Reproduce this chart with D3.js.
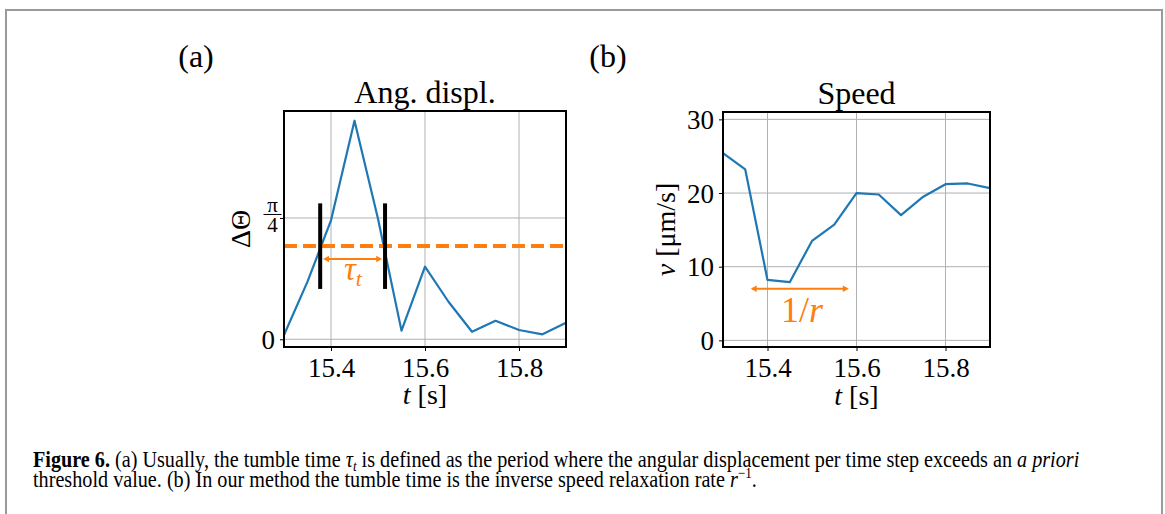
<!DOCTYPE html>
<html><head><meta charset="utf-8">
<script src="https://cdn.jsdelivr.net/npm/d3@7"></script>
<style>
body{margin:0;background:#fff;}
svg{display:block;font-family:"Liberation Serif","DejaVu Serif",serif;}
</style></head>
<body>
<script>
// ---- data ----
const times = [15.3, 15.35, 15.4, 15.45, 15.5, 15.55, 15.6, 15.65, 15.7, 15.75, 15.8, 15.85, 15.9];
const angDispl = [0.028, 0.373, 0.77, 1.415, 0.78, 0.056, 0.47, 0.243, 0.049, 0.12, 0.06, 0.032, 0.107];
const speed = [25.4, 23.2, 8.2, 7.9, 13.5, 15.7, 20.0, 19.8, 17.0, 19.5, 21.2, 21.3, 20.65];
const xTicks = [15.4, 15.6, 15.8];
const xTickLabels = ["15.4", "15.6", "15.8"];
const angTicks = [0, Math.PI / 4];
const speedTicks = [0, 10, 20, 30];
const threshold = [0.604];
const tumbleBars = [15.377, 15.515];
const tumbleBarRange = [0.326, 0.88];
const tauArrow = [15.381, 15.511, 0.52];
const rArrow = [15.36, 15.585, 7.0];

const W = 1165, H = 514;
const blue = "#1f77b4", orange = "#ff7f0e", gridC = "#b0b0b0";
const svg = d3.select("body").append("svg").attr("width", W).attr("height", H);
svg.append("rect").attr("width", W).attr("height", H).attr("fill", "#fff");
svg.append("rect").attr("x", 6).attr("y", 10).attr("width", 1156).attr("height", 600)
  .attr("fill", "none").attr("stroke", "#9a9a9a").attr("stroke-width", 2);

const defs = svg.append("defs");
function mk(id, dir) {
  const m = defs.append("marker").attr("id", id).attr("markerUnits", "userSpaceOnUse")
    .attr("markerWidth", 10).attr("markerHeight", 10).attr("viewBox", "-5 -5 10 10")
    .attr("refX", 0).attr("refY", 0).attr("orient", "auto");
  m.append("path").attr("d", dir > 0 ? "M-4,-3.2L2,0L-4,3.2Z" : "M4,-3.2L-2,0L4,3.2Z").attr("fill", orange);
}
mk("ahEnd", 1); mk("ahStart", -1);

function panel(box, yDomain, yTicks, yFmt) {
  const x = d3.scaleLinear().domain([15.3, 15.9]).range([box.l, box.r]);
  const y = d3.scaleLinear().domain(yDomain).range([box.b, box.t]);
  const g = svg.append("g");
  g.selectAll(".gx").data(xTicks).join("line")
    .attr("x1", d => x(d)).attr("x2", d => x(d)).attr("y1", box.t).attr("y2", box.b)
    .attr("stroke", gridC).attr("stroke-width", 1);
  g.selectAll(".gy").data(yTicks).join("line")
    .attr("x1", box.l).attr("x2", box.r).attr("y1", d => y(d)).attr("y2", d => y(d))
    .attr("stroke", gridC).attr("stroke-width", 1);
  const xa = g.append("g").attr("transform", `translate(0,${box.b})`)
    .call(d3.axisBottom(x).tickValues(xTicks).tickFormat((d, i) => xTickLabels[i]).tickSize(4).tickPadding(6));
  xa.select(".domain").remove();
  xa.selectAll("text").attr("font-size", 27).attr("font-family", "Liberation Serif").attr("fill", "#000")
    .attr("dy", null).attr("y", 30);
  xa.selectAll("line").attr("stroke", "#000");
  const ya = g.append("g").attr("transform", `translate(${box.l},0)`)
    .call(d3.axisLeft(y).tickValues(yTicks).tickFormat(yFmt).tickSize(4).tickPadding(5));
  ya.select(".domain").remove();
  ya.selectAll("text").attr("font-size", 27).attr("font-family", "Liberation Serif").attr("fill", "#000")
    .attr("dy", "0.34em");
  ya.selectAll("line").attr("stroke", "#000");
  return { x, y, g, ya };
}

function frame(box) {
  svg.append("rect").attr("x", box.l).attr("y", box.t).attr("width", box.r - box.l).attr("height", box.b - box.t)
    .attr("fill", "none").attr("stroke", "#000").attr("stroke-width", 2);
}

// ---- panel (a) ----
const boxA = { l: 284, r: 566, t: 111, b: 347 };
const A = panel(boxA, [-0.05, 1.478], angTicks, d => d === 0 ? "0" : "");
{
  const cx = 272.5, cy = A.y(Math.PI / 4);
  const fg = svg.append("g").attr("font-size", 21).attr("text-anchor", "middle");
  fg.append("text").attr("x", cx).attr("y", cy - 6).text("π");
  fg.append("line").attr("x1", cx - 9).attr("x2", cx + 9).attr("y1", cy - 3.5).attr("y2", cy - 3.5)
    .attr("stroke", "#000").attr("stroke-width", 1);
  fg.append("text").attr("x", cx).attr("y", cy + 14).text("4");
}
defs.append("clipPath").attr("id", "clipA").append("rect")
  .attr("x", boxA.l).attr("y", boxA.t).attr("width", boxA.r - boxA.l).attr("height", boxA.b - boxA.t);
const gA = svg.append("g").attr("clip-path", "url(#clipA)");
gA.append("path").datum(times.map((t, i) => [t, angDispl[i]]))
  .attr("d", d3.line().x(d => A.x(d[0])).y(d => A.y(d[1])))
  .attr("fill", "none").attr("stroke", blue).attr("stroke-width", 2.2).attr("stroke-linejoin", "round");
gA.selectAll(".thr").data(threshold).join("line")
  .attr("x1", boxA.l).attr("x2", boxA.r).attr("y1", d => A.y(d)).attr("y2", d => A.y(d))
  .attr("stroke", orange).attr("stroke-width", 4).attr("stroke-dasharray", "13,6");
gA.selectAll(".bar").data(tumbleBars).join("line")
  .attr("x1", d => A.x(d)).attr("x2", d => A.x(d))
  .attr("y1", A.y(tumbleBarRange[0])).attr("y2", A.y(tumbleBarRange[1]))
  .attr("stroke", "#000").attr("stroke-width", 4);
gA.append("line").attr("x1", A.x(tauArrow[0]) + 3).attr("x2", A.x(tauArrow[1]) - 3)
  .attr("y1", A.y(tauArrow[2])).attr("y2", A.y(tauArrow[2]))
  .attr("stroke", orange).attr("stroke-width", 2)
  .attr("marker-start", "url(#ahStart)").attr("marker-end", "url(#ahEnd)");
{
  const t = svg.append("text").attr("x", 353).attr("y", 280).attr("font-size", 33).attr("fill", orange)
    .attr("text-anchor", "middle").attr("font-style", "italic");
  t.append("tspan").text("τ");
  t.append("tspan").attr("font-size", 22).attr("dy", 6).text("t");
}
frame(boxA);
svg.append("text").attr("x", (boxA.l + boxA.r) / 2).attr("y", 103).attr("text-anchor", "middle")
  .attr("font-size", 32).text("Ang. displ.");
{
  const t = svg.append("text").attr("x", (boxA.l + boxA.r) / 2).attr("y", 404).attr("text-anchor", "middle").attr("font-size", 28);
  t.append("tspan").attr("font-style", "italic").text("t");
  t.append("tspan").text(" [s]");
}
svg.append("text").attr("transform", `translate(250,${(boxA.t + boxA.b) / 2}) rotate(-90)`)
  .attr("text-anchor", "middle").attr("font-size", 28).text("ΔΘ");
svg.append("text").attr("x", 196).attr("y", 67).attr("text-anchor", "middle").attr("font-size", 32).text("(a)");

// ---- panel (b) ----
const boxB = { l: 723, r: 990, t: 112, b: 347 };
const B = panel(boxB, [-0.9, 31.0], speedTicks, d => String(d));
defs.append("clipPath").attr("id", "clipB").append("rect")
  .attr("x", boxB.l).attr("y", boxB.t).attr("width", boxB.r - boxB.l).attr("height", boxB.b - boxB.t);
const gB = svg.append("g").attr("clip-path", "url(#clipB)");
gB.append("path").datum(times.map((t, i) => [t, speed[i]]))
  .attr("d", d3.line().x(d => B.x(d[0])).y(d => B.y(d[1])))
  .attr("fill", "none").attr("stroke", blue).attr("stroke-width", 2.2).attr("stroke-linejoin", "round");
gB.append("line").attr("x1", B.x(rArrow[0]) + 3).attr("x2", B.x(rArrow[1]) - 3)
  .attr("y1", B.y(rArrow[2])).attr("y2", B.y(rArrow[2]))
  .attr("stroke", orange).attr("stroke-width", 2)
  .attr("marker-start", "url(#ahStart)").attr("marker-end", "url(#ahEnd)");
{
  const t = svg.append("text").attr("x", 802).attr("y", 322).attr("font-size", 36).attr("fill", orange)
    .attr("text-anchor", "middle");
  t.append("tspan").text("1/");
  t.append("tspan").attr("font-style", "italic").text("r");
}
frame(boxB);
svg.append("text").attr("x", (boxB.l + boxB.r) / 2).attr("y", 104).attr("text-anchor", "middle")
  .attr("font-size", 32).text("Speed");
{
  const t = svg.append("text").attr("x", (boxB.l + boxB.r) / 2).attr("y", 405).attr("text-anchor", "middle").attr("font-size", 28);
  t.append("tspan").attr("font-style", "italic").text("t");
  t.append("tspan").text(" [s]");
}
{
  const t = svg.append("text").attr("transform", `translate(675,${(boxB.t + boxB.b) / 2}) rotate(-90)`)
    .attr("text-anchor", "middle").attr("font-size", 28);
  t.append("tspan").attr("font-style", "italic").text("v");
  t.append("tspan").text(" [μm/s]");
}
svg.append("text").attr("x", 608).attr("y", 67).attr("text-anchor", "middle").attr("font-size", 32).text("(b)");

// ---- caption ----
const capX = 33;
const l1 = svg.append("text").attr("x", capX).attr("y", 467).attr("font-size", 23);
l1.append("tspan").attr("font-weight", "bold").text("Figure 6.");
l1.append("tspan").text(" (a) Usually, the tumble time ");
l1.append("tspan").attr("font-style", "italic").text("τ");
l1.append("tspan").attr("font-style", "italic").attr("font-size", 15).attr("dy", 4).text("t");
l1.append("tspan").attr("dy", -4).text(" is defined as the period where the angular displacement per time step exceeds an ");
l1.append("tspan").attr("font-style", "italic").text("a priori");
const l2 = svg.append("text").attr("x", capX).attr("y", 487).attr("font-size", 23);
l2.append("tspan").text("threshold value. (b) In our method the tumble time is the inverse speed relaxation rate ");
l2.append("tspan").attr("font-style", "italic").text("r");
l2.append("tspan").attr("font-size", 15).attr("dy", -9).text("−1");
l2.append("tspan").attr("dy", 9).text(".");
const w1 = l1.node().getComputedTextLength();
const sx = (1080 - capX) / w1;
[l1, l2].forEach(l => l.attr("transform", `translate(${capX},0) scale(${sx},1) translate(${-capX},0)`));
</script>
</body></html>
